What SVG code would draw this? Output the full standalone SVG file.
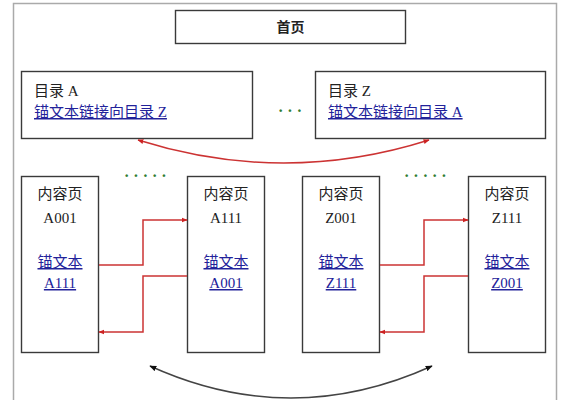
<svg xmlns="http://www.w3.org/2000/svg" width="568" height="400" viewBox="0 0 568 400">
<style>
.box{fill:#fff;stroke:#3a3a3a;stroke-width:1.4}
.t{font-family:"Liberation Serif","Noto Sans CJK SC",serif;font-size:15px;fill:#222}
.c{text-anchor:middle}
.lk{fill:#22229a;text-decoration:underline}
.red{fill:none;stroke:#cc3333;stroke-width:1.5}
.blk{fill:none;stroke:#444;stroke-width:1.5}
.dots{font-family:"Liberation Serif",serif;font-size:16px;fill:#2f7d32;font-weight:bold}
</style>
<defs>
<marker id="ar" viewBox="0 0 10 10" refX="9" refY="5" markerWidth="6" markerHeight="6" orient="auto-start-reverse" markerUnits="userSpaceOnUse">
<path d="M0,1 L10,5 L0,9 z" fill="#cc2222"/>
</marker>
<marker id="ak" viewBox="0 0 10 10" refX="9" refY="5" markerWidth="7" markerHeight="7" orient="auto-start-reverse" markerUnits="userSpaceOnUse">
<path d="M0,1 L10,5 L0,9 z" fill="#111"/>
</marker>
</defs>
<rect x="0" y="0" width="568" height="400" fill="#fff"/>
<rect x="13.5" y="3.5" width="543" height="430" fill="none" stroke="#aaa" stroke-width="1.5"/>

<g id="home">
<rect class="box" x="175.5" y="10.5" width="230" height="33"/>
<text class="t c" x="290.5" y="32" style="font-weight:bold;font-size:14px">首页</text>
</g>
<g id="dirA">
<rect class="box" x="21.5" y="71.5" width="231" height="67"/>
<text class="t" x="34" y="96">目录 A</text>
<text class="t lk" x="34" y="117">锚文本链接向目录 Z</text>
</g>
<g id="dirZ">
<rect class="box" x="315.5" y="71.5" width="230" height="67"/>
<text class="t" x="328" y="96">目录 Z</text>
<text class="t lk" x="328" y="117">锚文本链接向目录 A</text>
</g>
<g id="dotsTop"><text class="dots" x="278" y="116" letter-spacing="4">···</text></g>
<g id="dotsA"><text class="dots" x="124" y="181" letter-spacing="4">·····</text></g>
<g id="dotsZ"><text class="dots" x="404" y="181" letter-spacing="4">·····</text></g>

<g id="A001">
<rect class="box" x="21.5" y="176.5" width="77" height="176"/>
<text class="t c" x="60" y="199">内容页</text>
<text class="t c" x="60" y="223">A001</text>
<text class="t c lk" x="60" y="267">锚文本</text>
<text class="t c lk" x="60" y="288">A111</text>
</g>
<g id="A111">
<rect class="box" x="187.5" y="176.5" width="77" height="176"/>
<text class="t c" x="226" y="199">内容页</text>
<text class="t c" x="226" y="223">A111</text>
<text class="t c lk" x="226" y="267">锚文本</text>
<text class="t c lk" x="226" y="288">A001</text>
</g>
<g id="Z001">
<rect class="box" x="302.5" y="176.5" width="77" height="176"/>
<text class="t c" x="341" y="199">内容页</text>
<text class="t c" x="341" y="223">Z001</text>
<text class="t c lk" x="341" y="267">锚文本</text>
<text class="t c lk" x="341" y="288">Z111</text>
</g>
<g id="Z111">
<rect class="box" x="468.5" y="176.5" width="77" height="176"/>
<text class="t c" x="507" y="199">内容页</text>
<text class="t c" x="507" y="223">Z111</text>
<text class="t c lk" x="507" y="267">锚文本</text>
<text class="t c lk" x="507" y="288">Z001</text>
</g>

<g id="connectors">
<path class="red" d="M138,140 Q284,186 429,140" marker-start="url(#ar)" marker-end="url(#ar)"/>
<path class="red" d="M99,265 H143 V220 H187" marker-end="url(#ar)"/>
<path class="red" d="M187,276 H143 V332 H99" marker-end="url(#ar)"/>
<path class="red" d="M380,265 H424 V220 H468" marker-end="url(#ar)"/>
<path class="red" d="M468,276 H424 V332 H380" marker-end="url(#ar)"/>
<path class="blk" d="M150,366 Q291,430 432,366" marker-start="url(#ak)" marker-end="url(#ak)"/>
</g>
</svg>
